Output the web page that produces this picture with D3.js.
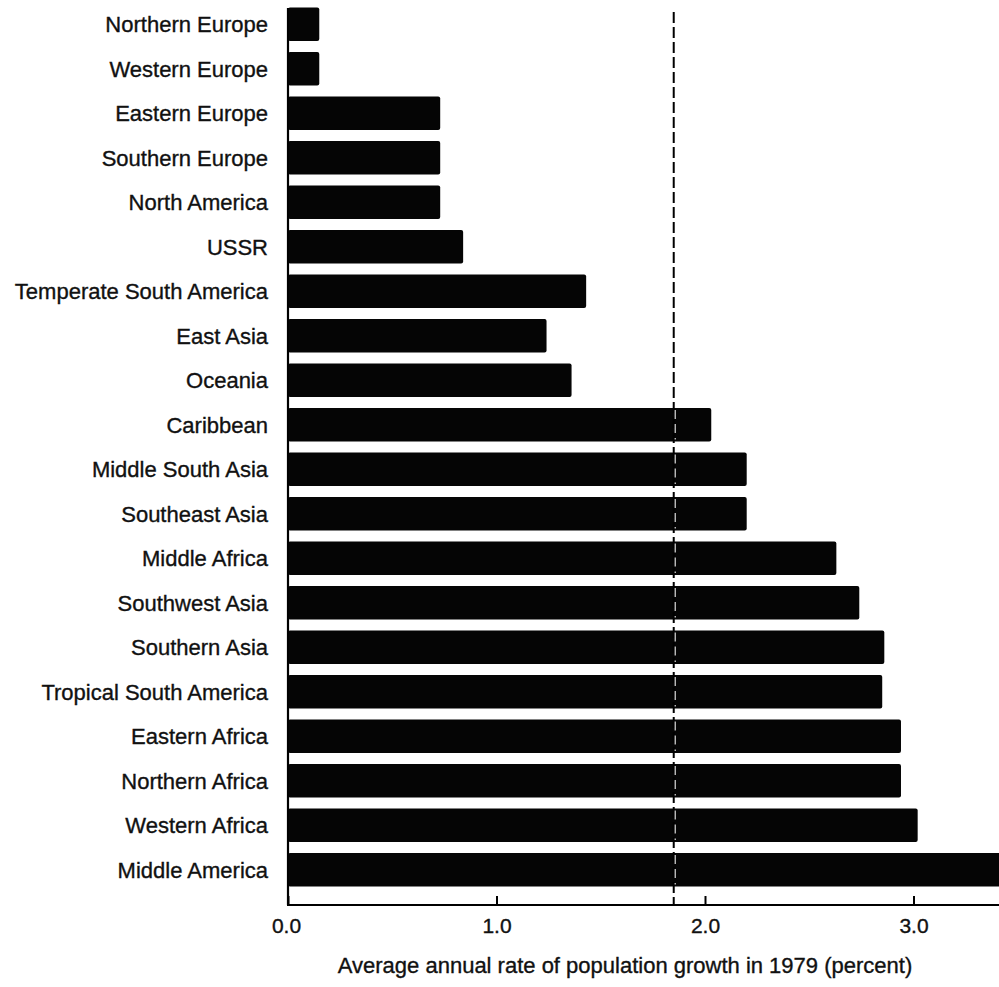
<!DOCTYPE html>
<html>
<head>
<meta charset="utf-8">
<script src="https://cdn.jsdelivr.net/npm/d3@7"></script>
<style>
  html, body { margin: 0; padding: 0; background: #fff; }
  svg { display: block; }
  text { font-family: "Liberation Sans", Arial, Helvetica, sans-serif; fill: #111; stroke: #111; stroke-width: 0.35px; }
</style>
</head>
<body>
<script>
const categories = [
  "Northern Europe", "Western Europe", "Eastern Europe", "Southern Europe",
  "North America", "USSR", "Temperate South America", "East Asia", "Oceania",
  "Caribbean", "Middle South Asia", "Southeast Asia", "Middle Africa",
  "Southwest Asia", "Southern Asia", "Tropical South America", "Eastern Africa",
  "Northern Africa", "Western Africa", "Middle America"
];
const values = [
  0.15, 0.15, 0.73, 0.73, 0.73, 0.84, 1.43, 1.24, 1.36,
  2.03, 2.2, 2.2, 2.63, 2.74, 2.86, 2.85, 2.94, 2.94, 3.02, 3.45
];
const tickValues = [0, 1, 2, 3];
const tickLabels = ["0.0", "1.0", "2.0", "3.0"];
const referenceValue = 1.85;
const axisTitle = "Average annual rate of population growth in 1979 (percent)";

const W = 999, H = 987;
const svg = d3.select("body").append("svg").attr("width", W).attr("height", H);
svg.append("rect").attr("width", W).attr("height", H).attr("fill", "#fff");

const x = d3.scaleLinear().domain([0, 3]).range([288, 913.5]);
const y = d3.scaleBand().domain(categories).range([2, 892]).paddingInner(0.25).paddingOuter(0.125);
const axisY = 905;

// bars
svg.append("g").selectAll("rect").data(categories).join("rect")
  .attr("x", x(0))
  .attr("y", d => y(d))
  .attr("width", (d, i) => x(values[i]) - x(0))
  .attr("height", y.bandwidth())
  .attr("rx", 2)
  .attr("fill", "#050505");

// category labels
svg.append("g").selectAll("text").data(categories).join("text")
  .attr("x", 268)
  .attr("y", d => y(d) + y.bandwidth() / 2)
  .attr("dy", "0.36em")
  .attr("text-anchor", "end")
  .attr("font-size", 22)
  .text(d => d);

// vertical axis line
svg.append("line")
  .attr("x1", x(0)).attr("x2", x(0))
  .attr("y1", 8).attr("y2", axisY)
  .attr("stroke", "#000").attr("stroke-width", 2.2);

// dashed reference line (dark on white, thin light gap where it crosses bars)
svg.append("line")
  .attr("x1", x(referenceValue)).attr("x2", x(referenceValue))
  .attr("y1", 12).attr("y2", axisY)
  .attr("stroke", "#000").attr("stroke-width", 2)
  .attr("stroke-dasharray", "11,4");
svg.append("g").selectAll("line").data(categories.filter((d, i) => values[i] > referenceValue)).join("line")
  .attr("x1", x(referenceValue) + 1.5).attr("x2", x(referenceValue) + 1.5)
  .attr("y1", d => y(d) + 2).attr("y2", d => y(d) + y.bandwidth() - 2)
  .attr("stroke", "#ddd").attr("stroke-width", 1.2)
  .attr("stroke-dasharray", "9,5");

// x axis
const xAxis = d3.axisBottom(x)
  .tickValues(tickValues)
  .tickFormat((d, i) => tickLabels[i])
  .tickSizeInner(-9)
  .tickSizeOuter(0)
  .tickPadding(13);
const gx = svg.append("g").attr("transform", `translate(0,${axisY})`).call(xAxis);
gx.select(".domain").remove();
gx.selectAll(".tick line").attr("stroke", "#000").attr("stroke-width", 2);
gx.selectAll(".tick text")
  .attr("font-size", 21)
  .attr("fill", "#111")
  .style("font-family", "'Liberation Sans', Arial, sans-serif");
gx.select(".tick text").attr("dx", -2);

svg.append("line")
  .attr("x1", x(0) - 1).attr("x2", W)
  .attr("y1", axisY).attr("y2", axisY)
  .attr("stroke", "#000").attr("stroke-width", 2.2);

// axis title
svg.append("text")
  .attr("x", 625)
  .attr("y", 973)
  .attr("text-anchor", "middle")
  .attr("font-size", 22)
  .text(axisTitle);
</script>
</body>
</html>
